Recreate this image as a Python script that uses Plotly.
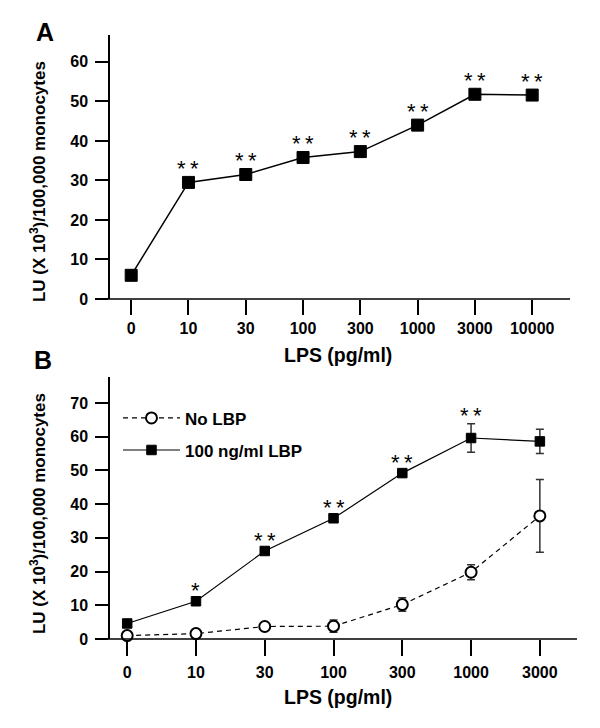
import plotly.graph_objects as go

# ---------------- data ----------------
lps_a = ["0", "10", "30", "100", "300", "1000", "3000", "10000"]
lu_a = [6.0, 29.5, 31.5, 35.8, 37.3, 44.0, 51.8, 51.6]
sig_a = ["", "*\u2009*", "*\u2009*", "*\u2009*", "*\u2009*", "*\u2009*", "*\u2009*", "*\u2009*"]

lps_b = ["0", "10", "30", "100", "300", "1000", "3000"]
no_lbp = [1.0, 1.6, 3.7, 3.8, 10.2, 19.8, 36.5]
no_lbp_err = [0.5, 0.8, 0.8, 1.8, 2.0, 2.2, 10.8]
lbp = [4.6, 11.2, 26.1, 35.8, 49.2, 59.6, 58.6]
lbp_err = [0.5, 0.8, 0.8, 0.8, 0.8, 4.2, 3.6]
sig_b = ["", "*", "*\u2009*", "*\u2009*", "*\u2009*", "*\u2009*", ""]

y_title = "LU (X 10<sup>3</sup>)/100,000 monocytes"
x_title = "LPS (pg/ml)"

FONT = "Liberation Sans, Arial, sans-serif"

fig = go.Figure()

# Panel A
fig.add_trace(go.Scatter(
    x=lps_a, y=lu_a, xaxis="x", yaxis="y", mode="lines+markers",
    line=dict(color="black", width=1.5),
    marker=dict(symbol="square", size=12, color="black", line=dict(color="black", width=1)),
    showlegend=False, cliponaxis=False,
))

# Panel B
fig.add_trace(go.Scatter(
    x=lps_b, y=no_lbp, xaxis="x2", yaxis="y2", mode="lines+markers", name="No LBP",
    line=dict(color="black", width=1.2, dash="5px,4px"),
    marker=dict(symbol="circle", size=11, color="white", line=dict(color="black", width=2)),
    error_y=dict(type="data", array=no_lbp_err, color="#333333", thickness=1.5, width=4),
    legend="legend", cliponaxis=False,
))
fig.add_trace(go.Scatter(
    x=lps_b, y=lbp, xaxis="x2", yaxis="y2", mode="lines+markers", name="100 ng/ml LBP",
    line=dict(color="black", width=1.2),
    marker=dict(symbol="square", size=9.5, color="black", line=dict(color="black", width=1)),
    error_y=dict(type="data", array=lbp_err, color="#333333", thickness=1.5, width=4),
    legend="legend2", cliponaxis=False,
))

ann = []
# category axes: annotation x is the category's serial index
for i, (yv, s) in enumerate(zip(lu_a, sig_a)):
    if s:
        ann.append(dict(x=i, y=yv, xref="x", yref="y", text=s, showarrow=False,
                        xanchor="center", yanchor="middle",
                        yshift=14, font=dict(family=FONT, size=22, color="black")))
for i, (yv, e, s) in enumerate(zip(lbp, lbp_err, sig_b)):
    if s:
        ann.append(dict(x=i, y=yv + e, xref="x2", yref="y2", text=s, showarrow=False,
                        xanchor="center", yanchor="middle",
                        yshift=8, font=dict(family=FONT, size=22, color="black")))

bold = dict(family=FONT, color="black", weight="bold")
centered = dict(xref="paper", yref="paper", showarrow=False, xanchor="center", yanchor="middle")
ann += [
    dict(x=-0.139, y=1.005, text="A", font=dict(**bold, size=25), **centered),
    dict(x=-0.143, y=0.4619, text="B", font=dict(**bold, size=25), **centered),
    dict(x=-0.154, y=0.7566, text=y_title, textangle=-90, font=dict(**bold, size=17), **centered),
    dict(x=-0.154, y=0.2070, text=y_title, textangle=-90, font=dict(**bold, size=17), **centered),
    dict(x=0.488, y=0.4702, text=x_title, font=dict(**bold, size=19.5), **centered),
    dict(x=0.488, y=-0.096, text=x_title, font=dict(**bold, size=19.5), **centered),
]

# x-axis lines extending left of the y-axis
shapes = [
    dict(type="line", xref="x domain", yref="y domain", x0=-0.028, x1=1, y0=0, y1=0,
         line=dict(color="black", width=1.5)),
    dict(type="line", xref="x2 domain", yref="y2 domain", x0=-0.028, x1=1, y0=0, y1=0,
         line=dict(color="black", width=1.5)),
]

tickfont = dict(**bold, size=16)
xcommon = dict(type="category", showgrid=False, zeroline=False, showline=False,
               ticks="outside", tickcolor="black", tickwidth=1.5, tickfont=tickfont)
ycommon = dict(showgrid=False, zeroline=False, showline=True, linecolor="black", linewidth=1.5,
               ticks="outside", tickcolor="black", tickwidth=1.5, ticklen=13,
               tickfont=tickfont, ticklabelstandoff=4)

legfont = dict(**bold, size=17)
fig.update_layout(
    width=600, height=728,
    margin=dict(l=102, r=31, t=27, b=97),
    paper_bgcolor="white", plot_bgcolor="white",
    font=dict(family=FONT, color="black"),
    xaxis=dict(domain=[0, 0.985], anchor="y", range=[-0.37, 7.66], ticklen=15, **xcommon),
    yaxis=dict(domain=[0.5629, 1], anchor="x", range=[0, 66.8], tickvals=[0, 10, 20, 30, 40, 50, 60], **ycommon),
    xaxis2=dict(domain=[0, 1], anchor="y2", range=[-0.25, 6.54], ticklen=16, ticklabelstandoff=3, **xcommon),
    yaxis2=dict(domain=[0, 0.4338], anchor="x2", range=[0, 77.7], tickvals=[0, 10, 20, 30, 40, 50, 60, 70], **ycommon),
    legend=dict(x=0.0171, y=0.395, xanchor="left", yanchor="top", bgcolor="rgba(0,0,0,0)",
                itemwidth=57, font=legfont),
    legend2=dict(x=0.0171, y=0.342, xanchor="left", yanchor="top", bgcolor="rgba(0,0,0,0)",
                 itemwidth=57, font=legfont),
    annotations=ann, shapes=shapes,
)

fig.write_html("out.html")
